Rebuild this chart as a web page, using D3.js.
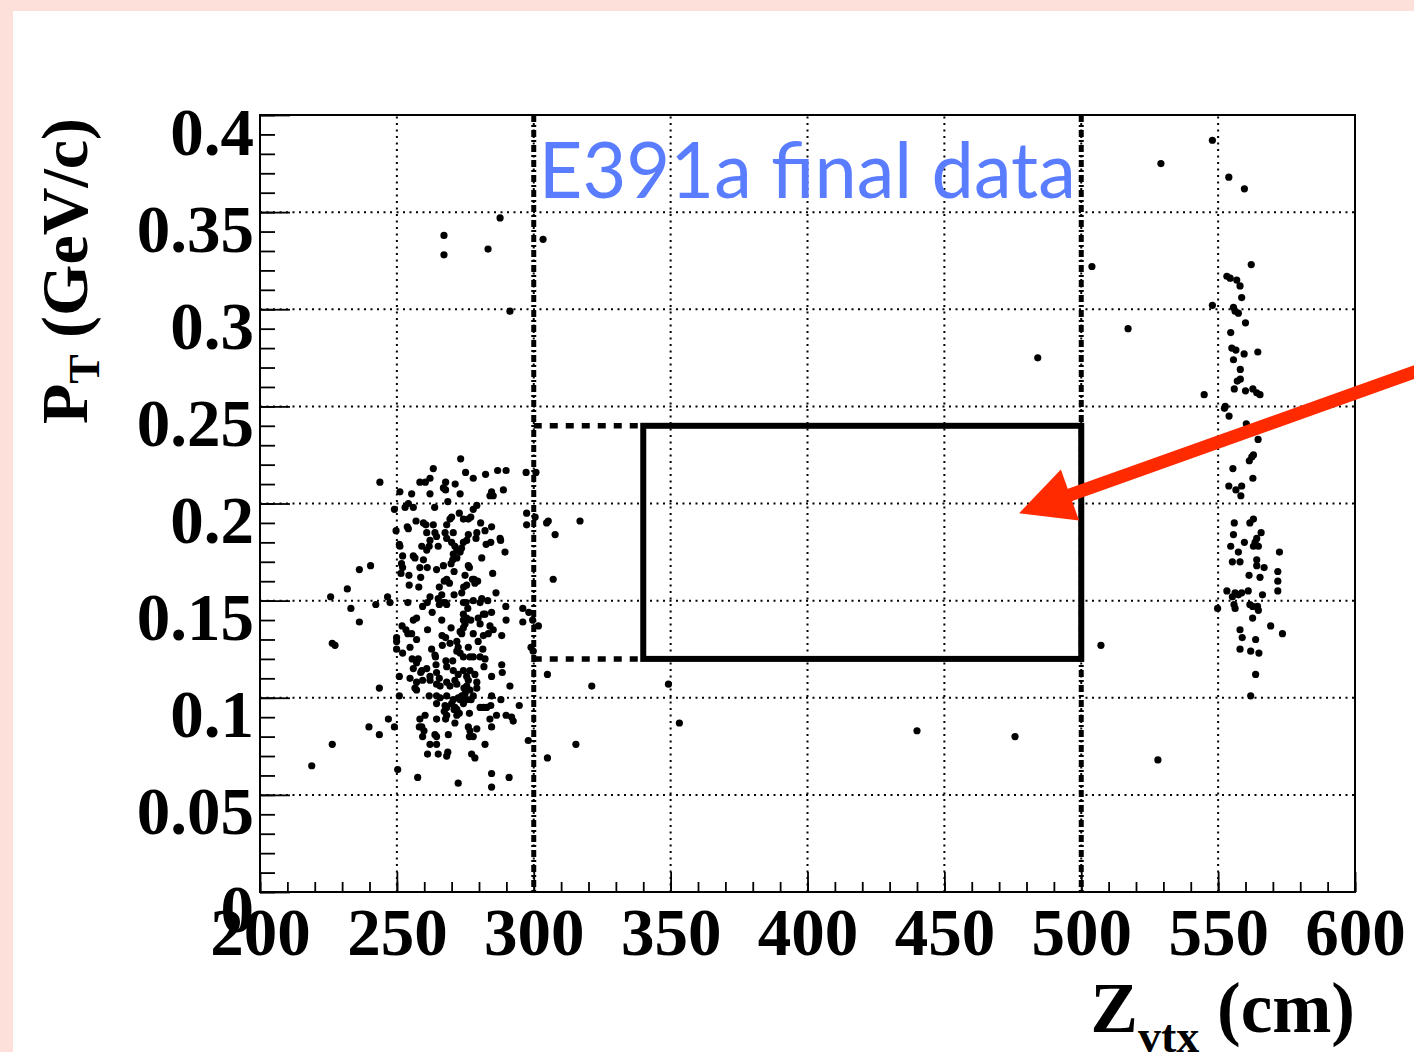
<!DOCTYPE html>
<html><head><meta charset="utf-8">
<script src="https://cdn.jsdelivr.net/npm/d3@7"></script>
<style>body{margin:0;background:#fff}svg{display:block}</style>
</head><body>
<svg id="c" width="1414" height="1052"></svg>
<script>
// ---- data ----
const zTicks = [200,250,300,350,400,450,500,550,600];
const zTickLabels = ["200","250","300","350","400","450","500","550","600"];
const ptTicks = [0,0.05,0.1,0.15,0.2,0.25,0.3,0.35,0.4];
const ptTickLabels = ["0","0.05","0.1","0.15","0.2","0.25","0.3","0.35","0.4"];
const zCuts = [300, 500];
const boxZ = [340, 500];
const boxPt = [0.12, 0.24];
const boxExtensionZ = [300, 340];
const arrowTail = [625, 0.2694];
const arrowTip = [477.3, 0.195];
const labelText = "E391a final data";

const upstreamEvents = [
[243.8,0.211],[263.3,0.218],[273.3,0.223],[258.4,0.211],[260.4,0.211],[262.1,0.213],[267.8,0.211],[267.0,0.208],[267.8,0.207],[271.3,0.210],
[275.1,0.216],[277.9,0.213],[282.4,0.215],[286.8,0.217],[289.9,0.217],[297.2,0.216],[300.8,0.216],[251.1,0.206],[255.4,0.205],[262.1,0.205],
[273.1,0.205],[284.6,0.206],[284.0,0.204],[285.2,0.204],[288.9,0.207],[254.2,0.200],[253.0,0.198],[256.0,0.198],[249.1,0.197],[268.6,0.201],
[263.8,0.198],[279.2,0.199],[277.9,0.197],[272.8,0.195],[270.0,0.193],[269.4,0.192],[274.3,0.192],[276.1,0.192],[277.0,0.193],[268.2,0.189],
[297.4,0.195],[300.5,0.193],[297.4,0.189],[304.7,0.190],[305.3,0.191],[307.8,0.184],[257.0,0.191],[259.7,0.190],[260.6,0.189],[263.3,0.189],
[280.6,0.190],[249.7,0.186],[253.8,0.188],[254.2,0.187],[260.9,0.185],[263.9,0.185],[264.5,0.183],[267.6,0.185],[270.6,0.185],[276.1,0.184],
[279.2,0.185],[278.9,0.182],[282.2,0.186],[284.6,0.188],[268.2,0.182],[262.1,0.181],[275.5,0.181],[274.3,0.180],[287.7,0.182],[287.9,0.181],
[270.0,0.180],[271.2,0.178],[271.9,0.176],[270.6,0.174],[250.9,0.179],[251.1,0.178],[259.1,0.178],[260.9,0.176],[261.8,0.178],[265.1,0.178],
[273.6,0.177],[273.1,0.175],[282.6,0.179],[284.3,0.180],[289.5,0.175],[252.1,0.173],[256.0,0.173],[256.6,0.172],[259.7,0.171],[270.4,0.171],
[271.9,0.172],[281.0,0.172],[251.7,0.169],[252.1,0.167],[258.4,0.167],[261.1,0.167],[264.5,0.166],[267.0,0.168],[269.8,0.169],[270.9,0.165],
[276.1,0.168],[276.5,0.167],[236.3,0.166],[240.4,0.168],[251.5,0.164],[254.4,0.163],[258.7,0.162],[268.2,0.161],[267.3,0.160],[269.2,0.159],
[274.9,0.163],[277.6,0.161],[278.2,0.161],[278.5,0.159],[279.5,0.160],[275.5,0.158],[274.4,0.157],[285.0,0.164],[307.1,0.161],[254.5,0.158],
[258.0,0.157],[265.5,0.157],[231.9,0.156],[225.8,0.152],[233.2,0.146],[242.3,0.148],[246.6,0.152],[247.5,0.149],[262.1,0.152],[265.1,0.151],
[266.4,0.153],[267.0,0.149],[268.2,0.148],[265.5,0.148],[267.7,0.149],[270.9,0.153],[273.7,0.154],[274.3,0.149],[275.3,0.149],[275.9,0.146],
[277.9,0.150],[281.0,0.151],[280.4,0.149],[286.2,0.154],[254.0,0.149],[259.4,0.147],[261.1,0.149],[283.2,0.150],[289.8,0.147],[296.0,0.146],
[298.2,0.144],[262.9,0.144],[284.6,0.144],[282.2,0.143],
[257.2,0.141],[256.0,0.140],[266.4,0.140],[274.3,0.143],[275.5,0.141],[274.3,0.140],[277.0,0.140],[279.7,0.141],[281.6,0.143],[289.9,0.140],
[296.0,0.139],[299.6,0.140],[301.7,0.137],[236.3,0.139],[226.4,0.128],[227.4,0.127],[251.9,0.137],[253.3,0.135],[254.0,0.133],[255.4,0.133],
[249.9,0.131],[249.9,0.129],[257.2,0.130],[261.2,0.135],[269.8,0.136],[266.5,0.132],[267.8,0.131],[266.6,0.127],[269.4,0.128],[271.9,0.129],
[272.4,0.126],[273.7,0.133],[274.3,0.136],[273.1,0.134],[274.9,0.138],[277.9,0.133],[279.7,0.129],[281.6,0.132],[284.0,0.137],[285.2,0.135],
[283.4,0.133],[280.4,0.138],[288.3,0.132],[254.8,0.126],[249.9,0.125],[252.1,0.123],[262.7,0.125],[263.9,0.122],[271.9,0.124],[273.1,0.123],
[274.3,0.121],[276.1,0.126],[276.7,0.121],[277.9,0.121],[280.4,0.121],[281.4,0.125],[282.2,0.120],[255.6,0.120],[257.8,0.120],[257.2,0.118],
[264.1,0.121],[264.3,0.117],[267.9,0.119],[270.4,0.119],[256.0,0.115],[259.1,0.114],[258.7,0.113],[260.9,0.115],[264.5,0.113],[268.2,0.116],
[270.6,0.114],[272.4,0.112],[274.3,0.114],[276.7,0.114],[275.5,0.111],[276.1,0.109],[278.5,0.112],[279.2,0.108],[281.8,0.116],[284.6,0.111],
[288.3,0.117],[288.5,0.113],[250.9,0.111],[254.8,0.110],[257.2,0.108],[256.6,0.105],[257.2,0.104],[259.4,0.109],[262.1,0.109],[262.1,0.111],
[265.5,0.110],[264.5,0.107],[265.8,0.106],[268.2,0.108],[269.4,0.106],[271.2,0.109],[271.9,0.107],[274.5,0.105],[274.9,0.102],[275.5,0.106],
[276.7,0.104],[279.2,0.105],[277.9,0.101],[243.6,0.105],[291.3,0.106],[261.8,0.101],[264.5,0.101],[265.8,0.100],[268.2,0.101],[270.6,0.099],
[272.4,0.100],[273.7,0.101],[275.5,0.099],[274.3,0.097],[277.1,0.099],[250.9,0.101],[284.6,0.101],[288.0,0.099],[294.7,0.096],[264.5,0.097],
[267.6,0.096],[268.2,0.095],[270.0,0.097],[271.2,0.095],[271.9,0.094],[273.1,0.099],[280.4,0.095],[281.6,0.095],[282.8,0.095],[284.3,0.096],
[267.3,0.093],[268.2,0.091],[270.9,0.094],[271.9,0.091],[272.8,0.092],[276.5,0.092],[258.4,0.089],[260.3,0.091],[264.5,0.089],[267.8,0.089],
[286.4,0.091],[289.9,0.091],[291.9,0.090],[292.5,0.088],[284.0,0.089],[284.6,0.085],[246.9,0.089],[239.8,0.085],[249.1,0.085],[243.6,0.081],
[258.2,0.085],[259.1,0.085],[259.9,0.083],[271.2,0.087],[276.1,0.085],[279.2,0.084],[276.7,0.083],[259.4,0.080],[263.9,0.081],[264.5,0.080],
[268.8,0.081],[276.5,0.080],[277.9,0.080],[262.1,0.076],[264.5,0.076],[282.2,0.076],[298.0,0.078],[226.4,0.076],[261.2,0.071],[265.1,0.071],
[268.6,0.072],[268.2,0.070],[277.3,0.071],[278.5,0.069],[218.9,0.065],[250.3,0.063],[257.6,0.059],[272.4,0.056],[284.6,0.061],[284.6,0.054],
[291.0,0.059],[305.0,0.069],[305.0,0.112],[299.0,0.126],[299.8,0.124],[321.2,0.106],[315.4,0.076],[316.9,0.191],
[267.2,0.338],[267.2,0.328],[283.3,0.331],[287.7,0.347],[291.3,0.299],[303.4,0.336]
];

const fiducialEvents = [
[349.2,0.107],[353.2,0.087],[440.0,0.083],[475.8,0.080],[484.1,0.275]
];

const downstreamEvents = [
[503.9,0.322],[507.2,0.127],[517.1,0.290],[528.0,0.068],[529.1,0.375],
[547.9,0.387],[553.9,0.368],[559.6,0.362],[562.1,0.323],[553.2,0.317],[554.4,0.316],[556.8,0.315],[558.0,0.312],[558.6,0.306],[547.9,0.302],
[555.6,0.301],[556.2,0.299],[557.4,0.298],[560.0,0.293],[554.6,0.288],[555.0,0.280],[556.5,0.279],[559.5,0.277],[564.5,0.278],[555.6,0.274],
[558.1,0.269],[557.0,0.263],[558.1,0.264],[555.9,0.259],[560.0,0.258],[562.7,0.259],[564.1,0.257],[565.3,0.256],[544.9,0.256],[552.6,0.250],
[552.3,0.249],[554.0,0.245],[560.3,0.241],[564.6,0.233],[561.4,0.222],[562.3,0.224],[562.9,0.225],[555.4,0.218],[562.7,0.213],[553.9,0.209],
[556.5,0.207],[558.6,0.209],[558.3,0.204],[555.9,0.190],[561.6,0.190],[562.9,0.192],[555.6,0.184],[565.7,0.185],[564.1,0.182],[563.5,0.180],
[562.9,0.178],[564.7,0.178],[554.6,0.178],[559.6,0.180],[557.4,0.175],[572.4,0.175],[555.2,0.170],[558.0,0.170],[564.1,0.171],[564.1,0.168],
[566.8,0.167],[571.8,0.165],[561.3,0.163],[565.3,0.162],[571.8,0.160],[553.2,0.155],[556.2,0.154],[557.4,0.153],[558.6,0.154],[561.0,0.155],
[566.2,0.153],[571.8,0.155],[555.2,0.152],[549.8,0.146],[555.8,0.148],[556.2,0.146],[561.6,0.148],[562.6,0.147],[564.4,0.147],[564.7,0.145],
[562.6,0.141],[569.2,0.137],[573.5,0.133],[558.0,0.135],[558.8,0.131],[563.7,0.130],[558.0,0.125],[561.9,0.124],[564.9,0.123],[563.7,0.112],
[561.9,0.101]
];

// ---- drawing ----
const svg = d3.select("#c");
const W = 1414, H = 1052;
svg.append("rect").attr("width",W).attr("height",H).attr("fill","#fde0da");
svg.append("rect").attr("x",13).attr("y",11).attr("width",W-13).attr("height",H-11).attr("fill","#ffffff");

const x = d3.scaleLinear().domain([200,600]).range([260,1355]);
const y = d3.scaleLinear().domain([0,0.4]).range([892,115]);
const serif = "'Liberation Serif','Times New Roman',serif";

// grid
const grid = svg.append("g").attr("stroke","#000").attr("stroke-width",2).attr("stroke-dasharray","2,4.5");
grid.selectAll("line.v").data(zTicks.slice(1,-1)).join("line")
  .attr("x1",d=>x(d)).attr("x2",d=>x(d)).attr("y1",y(0)).attr("y2",y(0.4));
grid.selectAll("line.h").data(ptTicks.slice(1,-1)).join("line").attr("class","h")
  .attr("x1",x(200)).attr("x2",x(600)).attr("y1",d=>y(d)).attr("y2",d=>y(d));

// cut lines
svg.append("g").selectAll("line").data(zCuts).join("line")
  .attr("x1",d=>x(d)).attr("x2",d=>x(d)).attr("y1",y(0.4)).attr("y2",y(0))
  .attr("stroke","#000").attr("stroke-width",5).attr("stroke-dasharray","7,3,2,3");

// signal box
svg.append("rect").attr("x",x(boxZ[0])).attr("y",y(boxPt[1]))
  .attr("width",x(boxZ[1])-x(boxZ[0])).attr("height",y(boxPt[0])-y(boxPt[1]))
  .attr("fill","none").attr("stroke","#000").attr("stroke-width",6);
svg.append("g").selectAll("line").data(boxPt).join("line")
  .attr("x1",x(boxExtensionZ[0])).attr("x2",x(boxExtensionZ[1]))
  .attr("y1",d=>y(d)).attr("y2",d=>y(d))
  .attr("stroke","#000").attr("stroke-width",5.5).attr("stroke-dasharray","8,8");

// frame
svg.append("rect").attr("x",x(200)).attr("y",y(0.4)).attr("width",x(600)-x(200)).attr("height",y(0)-y(0.4))
  .attr("fill","none").attr("stroke","#000").attr("stroke-width",2);

// axes
function styleAxis(g){ g.select(".domain").remove(); g.selectAll("line").attr("stroke-width",1.8); }
svg.append("g").attr("transform",`translate(0,${y(0)})`)
  .call(d3.axisBottom(x).tickValues(d3.range(200,601,10)).tickSize(-10).tickFormat("")).call(styleAxis);
svg.append("g").attr("transform",`translate(${x(200)},0)`)
  .call(d3.axisLeft(y).tickValues(d3.range(0,41).map(i=>i/100)).tickSize(-15).tickFormat("")).call(styleAxis);
const gx = svg.append("g").attr("transform",`translate(0,${y(0)})`)
  .call(d3.axisBottom(x).tickValues(zTicks).tickSize(-20).tickFormat((d,i)=>zTickLabels[i])).call(styleAxis);
gx.selectAll("text").attr("y",63).attr("dy",0).attr("font-family",serif).attr("font-weight","bold").attr("font-size",67).attr("fill","#000");
const gy = svg.append("g").attr("transform",`translate(${x(200)},0)`)
  .call(d3.axisLeft(y).tickValues(ptTicks).tickSize(-30).tickFormat((d,i)=>ptTickLabels[i])).call(styleAxis);
gy.selectAll("text").attr("x",-6).attr("dy",0).attr("y",39).attr("font-family",serif).attr("font-weight","bold").attr("font-size",67).attr("fill","#000");

// points
const allEvents = upstreamEvents.concat(fiducialEvents, downstreamEvents);
svg.append("g").selectAll("circle").data(allEvents).join("circle")
  .attr("cx",d=>x(d[0])).attr("cy",d=>y(d[1])).attr("r",3.6).attr("fill","#000");

// label
svg.append("text").attr("x",x(300)+5).attr("y",198)
  .attr("font-family","Lato,'Open Sans',sans-serif").attr("font-size",78).attr("fill","#5a7dff")
  .attr("textLength",537).attr("lengthAdjust","spacingAndGlyphs").text(labelText);

// axis titles
const xt = svg.append("text").attr("x",x(600)).attr("y",1032).attr("text-anchor","end")
  .attr("font-family",serif).attr("font-weight","bold").attr("font-size",71).attr("fill","#000");
xt.append("tspan").text("Z");
xt.append("tspan").attr("font-size",46).attr("dy",20).text("vtx");
xt.append("tspan").attr("dy",-20).text(" (cm)");

const yt = svg.append("text").attr("transform","translate(87,118) rotate(-90)").attr("text-anchor","end")
  .attr("font-family",serif).attr("font-weight","bold").attr("font-size",66).attr("fill","#000");
yt.append("tspan").text("P");
yt.append("tspan").attr("font-size",44).attr("dy",12).text("T");
yt.append("tspan").attr("dy",-12).text(" (GeV/c)");

// arrow
const tx = x(arrowTail[0]), ty = y(arrowTail[1]);
const hx = x(arrowTip[0]), hy = y(arrowTip[1]);
const len = Math.hypot(tx-hx, ty-hy), ux = (tx-hx)/len, uy = (ty-hy)/len;
const headL = 54, headW = 27;
const bx = hx + ux*headL, by = hy + uy*headL;
svg.append("line").attr("x1",tx).attr("y1",ty).attr("x2",bx+ux*-2).attr("y2",by+uy*-2)
  .attr("stroke","#ff2a00").attr("stroke-width",13);
svg.append("path").attr("d",`M${hx},${hy}L${bx-uy*headW},${by+ux*headW}L${bx+uy*headW},${by-ux*headW}Z`)
  .attr("fill","#ff2a00");
</script>
</body></html>
